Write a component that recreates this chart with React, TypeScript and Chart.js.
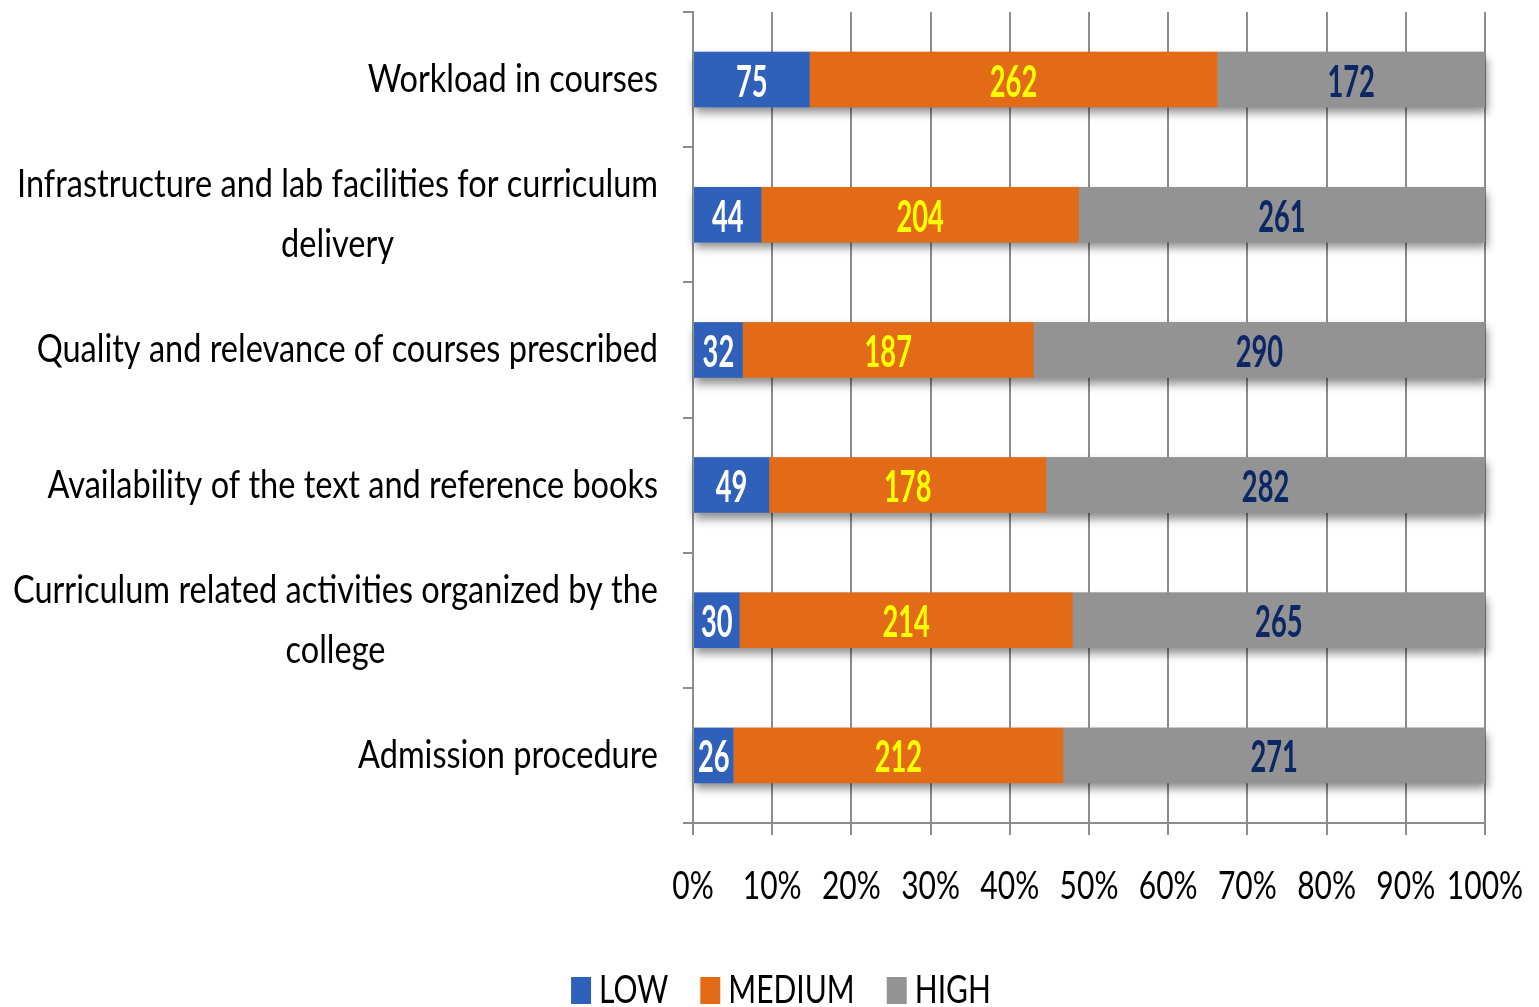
import React, { useEffect, useRef } from "react";
import { Chart, registerables } from "chart.js";

Chart.register(...registerables);

const categories: string[][] = [
  ["Workload in courses"],
  ["Infrastructure and lab facilities for curriculum", "delivery"],
  ["Quality and relevance of courses prescribed"],
  ["Availability of the text and reference books"],
  ["Curriculum related activities organized by the", "college"],
  ["Admission procedure"],
];
const lowValues = [75, 44, 32, 49, 30, 26];
const mediumValues = [262, 204, 187, 178, 214, 212];
const highValues = [172, 261, 290, 282, 265, 271];
const xTickValues = [0, 10, 20, 30, 40, 50, 60, 70, 80, 90, 100];
const xTickLabels = ["0%", "10%", "20%", "30%", "40%", "50%", "60%", "70%", "80%", "90%", "100%"];
const seriesNames = ["LOW", "MEDIUM", "HIGH"];
const seriesColors = ["#2F60BA", "#E36B17", "#939393"];
const valueLabelColors = ["#FFFFFF", "#FFFF00", "#0B2766"];

const FONT = "Lato, 'Open Sans', sans-serif";
const AXIS_COLOR = "#8C8C8C";

function drawScaledText(
  ctx: CanvasRenderingContext2D,
  text: string,
  x: number,
  baseline: number,
  font: string,
  sx: number,
  align: "left" | "center" | "right",
  color: string
) {
  ctx.save();
  ctx.font = font;
  ctx.textBaseline = "alphabetic";
  ctx.textAlign = "left";
  const w = ctx.measureText(text).width * sx;
  let left = x;
  if (align === "center") left = x - w / 2;
  else if (align === "right") left = x - w;
  ctx.translate(left, baseline);
  ctx.scale(sx, 1);
  ctx.fillStyle = color;
  ctx.fillText(text, 0, 0);
  ctx.restore();
}

function measureScaled(ctx: CanvasRenderingContext2D, text: string, font: string, sx: number) {
  ctx.save();
  ctx.font = font;
  const w = ctx.measureText(text).width * sx;
  ctx.restore();
  return w;
}

const allSeries = [lowValues, mediumValues, highValues];

const shadowPlugin = {
  id: "barShadow",
  beforeDatasetsDraw(chart: any) {
    const ctx = chart.ctx as CanvasRenderingContext2D;
    const xs = chart.scales.x;
    const meta = chart.getDatasetMeta(2);
    const x0 = xs.getPixelForValue(0);
    const x1 = xs.getPixelForValue(100);
    ctx.save();
    ctx.shadowColor = "rgba(0,0,0,0.45)";
    ctx.shadowBlur = 9;
    ctx.shadowOffsetX = 2;
    ctx.shadowOffsetY = 6;
    ctx.fillStyle = seriesColors[2];
    meta.data.forEach((el: any) => {
      const p = el.getProps(["y", "height"], true);
      ctx.fillRect(x0, p.y - p.height / 2, x1 - x0, p.height);
    });
    ctx.restore();
  },
};

const textPlugin = {
  id: "customText",
  afterDatasetsDraw(chart: any) {
    const ctx = chart.ctx as CanvasRenderingContext2D;
    const valueFont = `bold 44px ${FONT}`;
    allSeries.forEach((vals, i) => {
      const meta = chart.getDatasetMeta(i);
      meta.data.forEach((el: any, j: number) => {
        const p = el.getProps(["x", "base", "y"], true);
        const cx = (p.x + p.base) / 2;
        drawScaledText(ctx, String(vals[j]), cx, p.y + 17, valueFont, 0.62, "center", valueLabelColors[i]);
      });
    });
  },
  afterDraw(chart: any) {
    const ctx = chart.ctx as CanvasRenderingContext2D;
    const ys = chart.scales.y;
    const xs = chart.scales.x;
    // category labels
    const catFont = `38px ${FONT}`;
    const catSx = 0.855;
    const lineH = 60;
    const rightX = ys.right - 35;
    categories.forEach((lines, j) => {
      const cy = ys.getPixelForValue(j);
      const widths = lines.map((l) => measureScaled(ctx, l, catFont, catSx));
      const blockW = Math.max(...widths);
      const cx = rightX - blockW / 2;
      lines.forEach((line, k) => {
        const ly = cy + (k - (lines.length - 1) / 2) * lineH;
        drawScaledText(ctx, line, cx, ly + 12.5, catFont, catSx, "center", "#000000");
      });
    });
    // x tick labels
    const tickFont = `39px ${FONT}`;
    xTickValues.forEach((v, i) => {
      const px = xs.getPixelForValue(v);
      drawScaledText(ctx, xTickLabels[i], px, xs.top + 76, tickFont, 0.77, "center", "#000000");
    });
    // legend
    const legFont = `39px ${FONT}`;
    const legSx = 0.77;
    const boxW = 20;
    const gapBoxText = 8;
    const gapItems = 32;
    const widths = seriesNames.map((n) => measureScaled(ctx, n, legFont, legSx));
    const total =
      widths.reduce((a, b) => a + b, 0) + seriesNames.length * (boxW + gapBoxText) + gapItems * (seriesNames.length - 1);
    let lx = 781 - total / 2;
    const legBase = 1003;
    seriesNames.forEach((n, i) => {
      ctx.save();
      ctx.fillStyle = seriesColors[i];
      ctx.fillRect(lx, legBase - 26, boxW, 27);
      ctx.restore();
      drawScaledText(ctx, n, lx + boxW + gapBoxText, legBase, legFont, legSx, "left", "#000000");
      lx += boxW + gapBoxText + widths[i] + gapItems;
    });
  },
};

export default function App() {
  const ref = useRef<HTMLCanvasElement | null>(null);
  useEffect(() => {
    document.body.style.margin = "0";
    const canvas = ref.current;
    if (!canvas) return;
    const totals = lowValues.map((v, i) => v + mediumValues[i] + highValues[i]);
    const pct = (arr: number[]) => arr.map((v, i) => (v / totals[i]) * 100);
    const chart = new Chart(canvas, {
      type: "bar",
      data: {
        labels: categories.map((c) => c.join(" ")),
        datasets: allSeries.map((vals, i) => ({
          label: seriesNames[i],
          data: pct(vals),
          backgroundColor: seriesColors[i],
          borderWidth: 0,
          barPercentage: 0.41,
          categoryPercentage: 1,
        })),
      },
      options: {
        indexAxis: "y",
        responsive: false,
        animation: false,
        layout: { padding: { top: 12, right: 54, left: 0, bottom: 0 } },
        plugins: { legend: { display: false }, tooltip: { enabled: false } },
        scales: {
          x: {
            stacked: true,
            min: 0,
            max: 100,
            ticks: { stepSize: 10, display: false },
            grid: { color: AXIS_COLOR, lineWidth: 2, tickLength: 12, drawTicks: true },
            border: { color: AXIS_COLOR, width: 2 },
            afterFit: (s: any) => {
              s.height = 184;
            },
          },
          y: {
            stacked: true,
            ticks: { display: false },
            grid: { drawOnChartArea: false, drawTicks: true, tickLength: 10, color: AXIS_COLOR, lineWidth: 2, offset: true },
            border: { color: AXIS_COLOR, width: 2 },
            afterFit: (s: any) => {
              s.width = 693;
            },
          },
        },
      },
      plugins: [shadowPlugin, textPlugin],
    } as any);
    return () => chart.destroy();
  }, []);
  return <canvas ref={ref} width={1539} height={1007} style={{ display: "block" }} />;
}
